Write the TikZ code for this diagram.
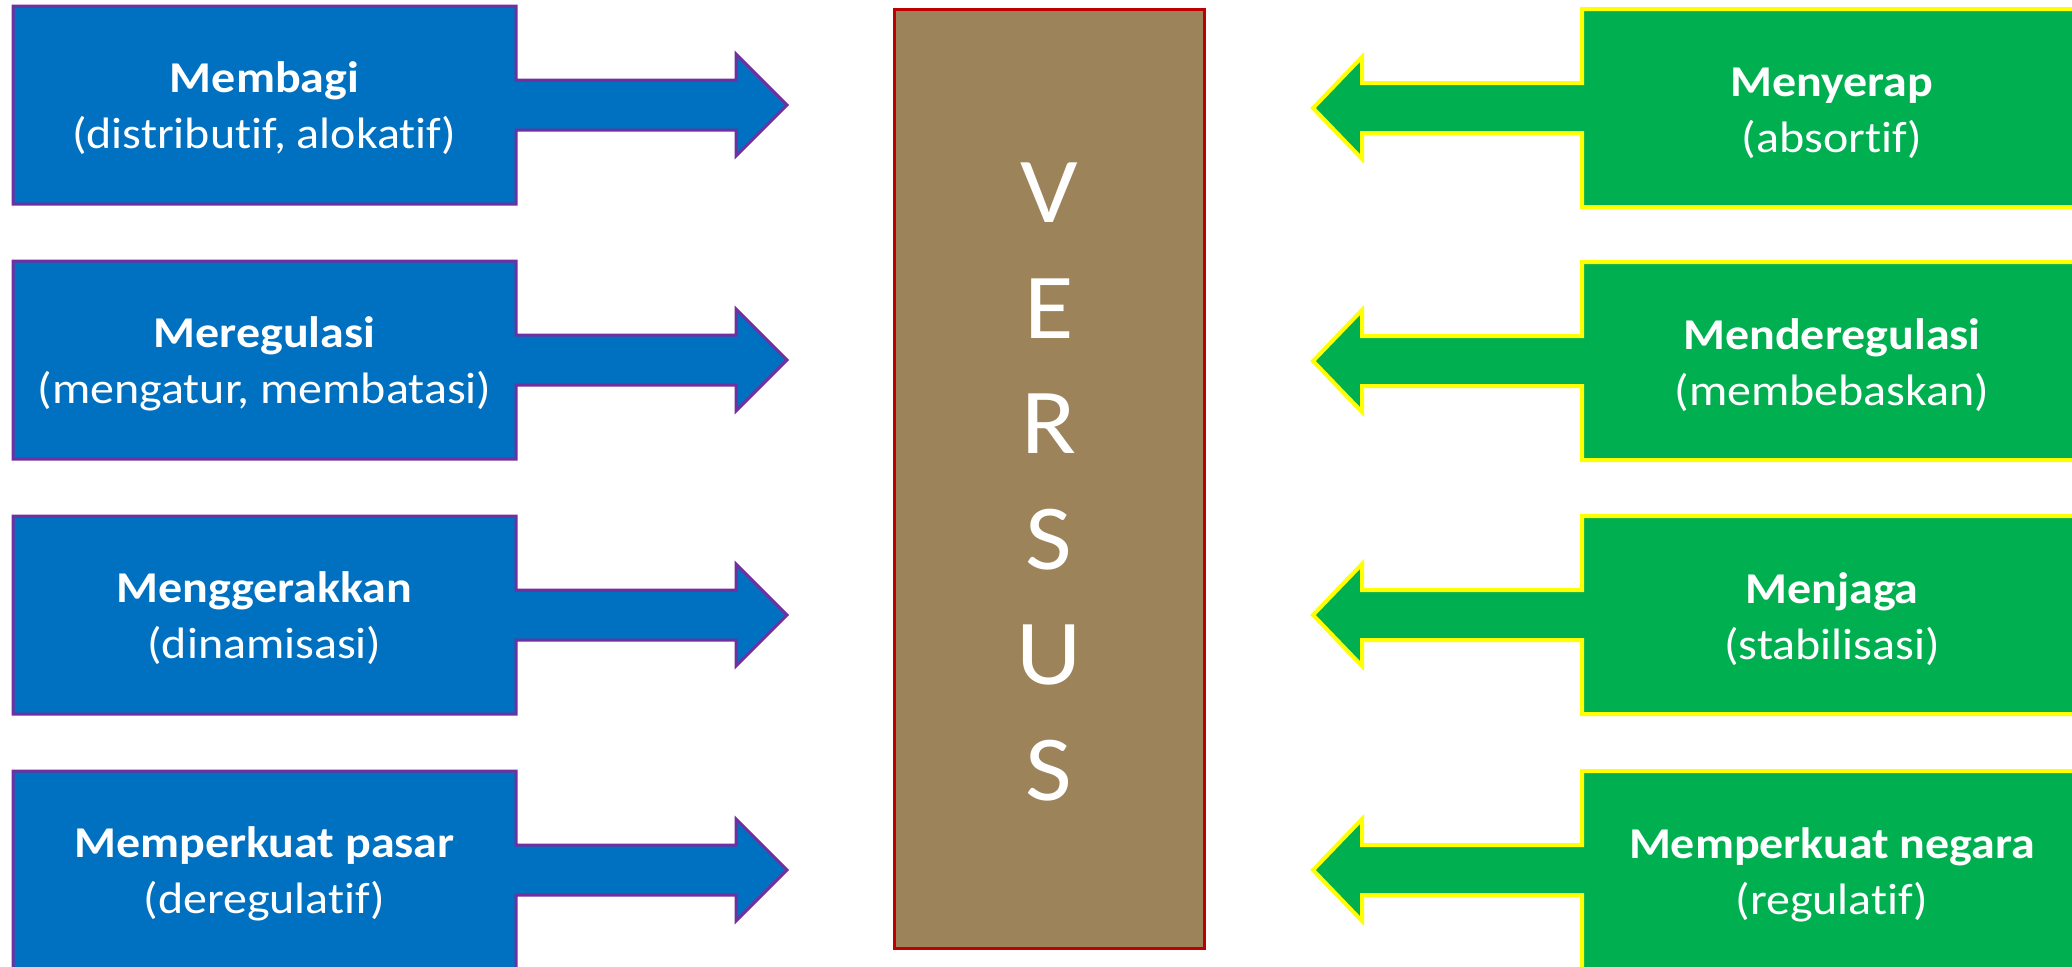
\documentclass[tikz,border=0pt]{standalone}
\usepackage{graphicx}
\usepackage{fontspec}
\setmainfont{Carlito}[Ligatures={NoCommon,NoContextual,NoRare}]
\definecolor{blueFill}{HTML}{0070C0}
\definecolor{purpleLine}{HTML}{7030A0}
\definecolor{greenFill}{HTML}{00B050}
\definecolor{yellowLine}{HTML}{FFFF00}
\definecolor{tanFill}{HTML}{9C8359}
\definecolor{redLine}{HTML}{C00000}
% slightly widened lettering
\newcommand{\widetext}[1]{\scalebox{1.09}[1]{#1}}
\tikzset{
  leftshape/.style={fill=blueFill, draw=purpleLine, line width=1.5pt, line join=miter},
  rightshape/.style={fill=greenFill, draw=yellowLine, line width=2pt, line join=miter},
  versusbox/.style={fill=tanFill, draw=redLine, line width=1.5pt},
  titletext/.style={text=white, font=\fontsize{22}{26}\selectfont\bfseries, anchor=base, inner sep=0pt},
  subtext/.style={text=white, font=\fontsize{22}{26}\selectfont, anchor=base, inner sep=0pt},
  versusletter/.style={text=white, font=\fontsize{46.5}{56}\selectfont, anchor=base, inner sep=0pt},
}
\begin{document}
\begin{tikzpicture}[x=0.5pt,y=-0.5pt]
\useasboundingbox (0,0) rectangle (2072,966);
\clip (0,0) rectangle (2072,966);

% blue right-arrow callouts
\foreach \cy/\name/\title/\sub in {
    {105/L1/Membagi/(distributif, alokatif)},
    {360/L2/Meregulasi/(mengatur, membatasi)},
    {615/L3/Menggerakkan/(dinamisasi)},
    {870/L4/Memperkuat pasar/(deregulatif)}} {
  \draw[leftshape] (13,\cy-99) -- (516,\cy-99) -- (516,\cy-25) -- (736,\cy-25)
    -- (736,\cy-51) -- (787,\cy) -- (736,\cy+51) -- (736,\cy+25) -- (516,\cy+25)
    -- (516,\cy+99) -- (13,\cy+99) -- cycle;
  \node[titletext] (\name t) at (264.5,\cy-13) {\widetext{\title}};
  \node[subtext] (\name s) at (264.5,\cy+43) {\widetext{\sub}};
}

% green left-arrow callouts
\foreach \cy/\name/\title/\sub in {
    {108/R1/Menyerap/(absortif)},
    {361/R2/Menderegulasi/(membebaskan)},
    {615/R3/Menjaga/(stabilisasi)},
    {870/R4/Memperkuat negara/(regulatif)}} {
  \draw[rightshape] (2082,\cy-99) -- (1582,\cy-99) -- (1582,\cy-25) -- (1362,\cy-25)
    -- (1362,\cy-51) -- (1313,\cy) -- (1362,\cy+51) -- (1362,\cy+25) -- (1582,\cy+25)
    -- (1582,\cy+99) -- (2082,\cy+99) -- cycle;
  \node[titletext] (\name t) at (1832,\cy-12) {\widetext{\title}};
  \node[subtext] (\name s) at (1832,\cy+44) {\widetext{\sub}};
}

% central column
\draw[versusbox] (894,9) rectangle (1204,948);
\foreach \ch/\by [count=\k] in {V/222, E/338, R/453, S/569, U/684, S/800} {
  \node[versusletter] (vs\k) at (1049,\by) {\widetext{\ch}};
}
\end{tikzpicture}
\end{document}
